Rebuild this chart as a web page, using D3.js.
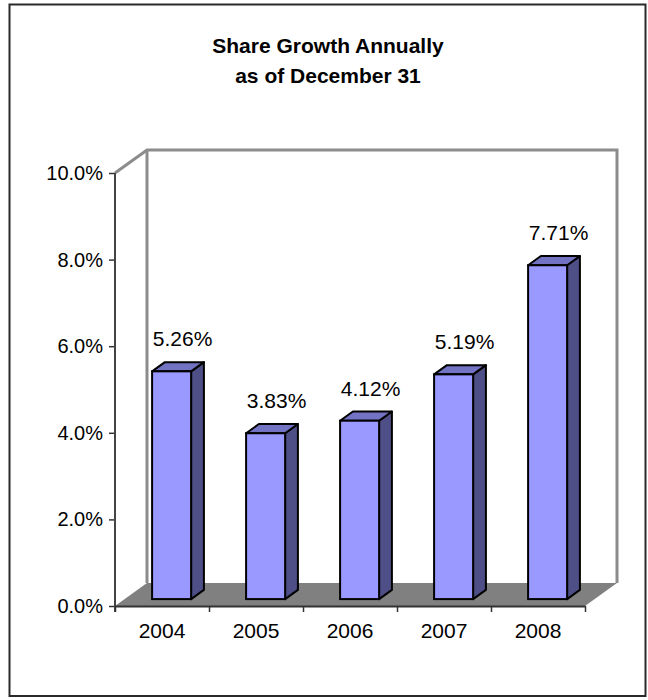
<!DOCTYPE html>
<html>
<head>
<meta charset="utf-8">
<script src="https://cdn.jsdelivr.net/npm/d3@7"></script>
<style>
  html, body { margin: 0; padding: 0; background: #fff; }
  svg { display: block; font-family: "Liberation Sans", Arial, sans-serif; }
</style>
</head>
<body>
<svg id="chart" width="648" height="700"></svg>
<script>
const categories = ["2004", "2005", "2006", "2007", "2008"];
const values = [0.0526, 0.0383, 0.0412, 0.0519, 0.0771];
const valueLabels = ["5.26%", "3.83%", "4.12%", "5.19%", "7.71%"];
const yTicks = [0, 0.02, 0.04, 0.06, 0.08, 0.10];
const titleLines = ["Share Growth Annually", "as of December 31"];

const svg = d3.select("#chart");

// outer border
svg.append("rect").attr("x", 9.5).attr("y", 4.5).attr("width", 636).attr("height", 691.5)
  .attr("fill", "#fff").attr("stroke", "#2a2a2a").attr("stroke-width", 2);

// title
svg.append("g").selectAll("text").data(titleLines).join("text")
  .attr("x", 328).attr("y", (d, i) => 53 + i * 30)
  .attr("text-anchor", "middle").attr("font-size", 21).attr("font-weight", "bold")
  .attr("fill", "#000").text(d => d);

// scales
const x = d3.scaleBand().domain(categories).range([115, 585]).paddingInner(0).paddingOuter(0);
const y = d3.scaleLinear().domain([0, 0.10]).range([606, 173]);
const DX = 32, DY = -23; // full depth vector
const dep = d => [DX * d, DY * d];

const x0 = x.range()[0], x1 = x.range()[1];
const yb = y(0), yt = y(0.10);

// back wall
svg.append("rect")
  .attr("x", x0 + DX).attr("y", yt + DY)
  .attr("width", x1 - x0).attr("height", yb - yt)
  .attr("fill", "#fff");

// floor
svg.append("polygon")
  .attr("points", [[x0, yb], [x0 + DX, yb + DY], [x1 + DX, yb + DY], [x1, yb]].map(p => p.join(",")).join(" "))
  .attr("fill", "#808080");

// wall edges
const wallColor = "#8c8c8c";
svg.append("path")
  .attr("d", `M${x0},${yt} L${x0 + DX},${yt + DY} L${x1 + DX},${yt + DY} L${x1 + DX},${yb + DY}`)
  .attr("fill", "none").attr("stroke", wallColor).attr("stroke-width", 3).attr("stroke-linejoin", "miter");
svg.append("line")
  .attr("x1", x0 + DX).attr("x2", x0 + DX).attr("y1", yt + DY).attr("y2", yb + DY)
  .attr("stroke", wallColor).attr("stroke-width", 3);

// bars
const bw = x.bandwidth() * 0.415;
const fD = 0.3, bD = 0.7;
const [fdx, fdy] = dep(fD);
const [bdx, bdy] = dep(bD);
const ddx = bdx - fdx, ddy = bdy - fdy;

const bars = svg.append("g").selectAll("g").data(categories).join("g");
bars.each(function (c, i) {
  const g = d3.select(this);
  const cx = x(c) + x.bandwidth() / 2 + fdx;
  const left = cx - bw / 2, right = cx + bw / 2;
  const top = y(values[i]) + fdy, bottom = y(0) + fdy;
  // side
  g.append("polygon")
    .attr("points", [[right, top], [right + ddx, top + ddy], [right + ddx, bottom + ddy], [right, bottom]].map(p => p.join(",")).join(" "))
    .attr("fill", "#4f4f88").attr("stroke", "#000").attr("stroke-width", 2).attr("stroke-linejoin", "round");
  // top
  g.append("polygon")
    .attr("points", [[left, top], [left + ddx, top + ddy], [right + ddx, top + ddy], [right, top]].map(p => p.join(",")).join(" "))
    .attr("fill", "#7373c4").attr("stroke", "#000").attr("stroke-width", 2).attr("stroke-linejoin", "round");
  // front
  g.append("rect")
    .attr("x", left).attr("y", top).attr("width", bw).attr("height", bottom - top)
    .attr("fill", "#9999ff").attr("stroke", "#000").attr("stroke-width", 2);
  // value label
  g.append("text")
    .attr("x", cx + 11).attr("y", top - 25)
    .attr("text-anchor", "middle").attr("font-size", 21).attr("fill", "#000")
    .text(valueLabels[i]);
});

// y axis
const yAxis = d3.axisLeft(y).tickValues(yTicks).tickFormat(d3.format(".1%")).tickSize(6).tickPadding(6);
const gy = svg.append("g").attr("transform", `translate(${x0},0)`).call(yAxis);
gy.select(".domain").remove();
gy.selectAll(".tick line").attr("stroke", "#333").attr("stroke-width", 1.5);
gy.selectAll(".tick text").attr("font-size", 20).attr("font-family", "Liberation Sans, Arial, sans-serif").attr("fill", "#000");
svg.append("line").attr("x1", x0).attr("x2", x0).attr("y1", yt).attr("y2", yb + 6)
  .attr("stroke", "#444").attr("stroke-width", 2);

// x axis: boundary ticks
const xb = d3.scaleLinear().domain([0, categories.length]).range([x0, x1]);
const xAxisTicks = d3.axisBottom(xb).tickValues(d3.range(categories.length + 1)).tickFormat("").tickSize(6).tickSizeOuter(0);
const gx = svg.append("g").attr("transform", `translate(0,${yb})`).call(xAxisTicks);
gx.select(".domain").attr("stroke", "#333").attr("stroke-width", 2);
gx.selectAll(".tick line").attr("stroke", "#333").attr("stroke-width", 1.5);

// x labels
const xAxisLabels = d3.axisBottom(x).tickSize(0).tickPadding(17);
const gxl = svg.append("g").attr("transform", `translate(0,${yb})`).call(xAxisLabels);
gxl.select(".domain").remove();
gxl.selectAll(".tick text").attr("font-size", 21).attr("font-family", "Liberation Sans, Arial, sans-serif").attr("fill", "#000");
</script>
</body>
</html>
